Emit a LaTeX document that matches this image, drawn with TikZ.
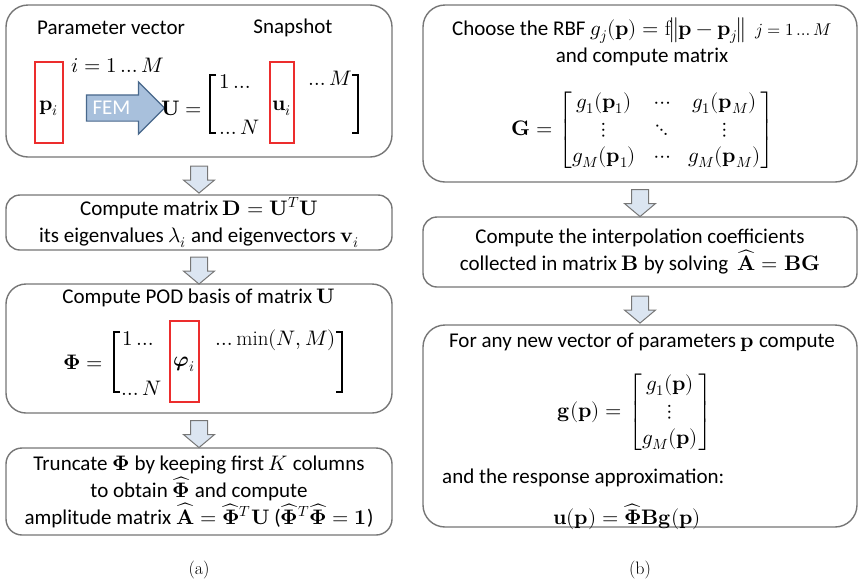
\documentclass[tikz,border=0pt]{standalone}
\usepackage{amsmath}
\usepackage{unicode-math}
\setmainfont{Carlito}
\setmathfont{Latin Modern Math}
\setmathrm{Latin Modern Roman}
\newfontfamily\capfont{Latin Modern Roman}
\usetikzlibrary{shapes.arrows, positioning, calc}
\definecolor{framegray}{RGB}{118,118,118}
\definecolor{stepblue}{RGB}{219,229,241}
\definecolor{femblue}{RGB}{168,192,220}
\definecolor{femedge}{RGB}{72,104,140}
\definecolor{pickred}{RGB}{236,45,45}

\begin{document}
\begin{tikzpicture}[x=1pt, y=-1pt,
  txt/.style={font=\fontsize{21pt}{27pt}\selectfont, inner sep=0pt},
  panel/.style={draw=framegray, line width=1.4pt, fill=white, rounded corners=#1,
    inner sep=0pt, align=center, font=\fontsize{21pt}{27pt}\selectfont},
  panel/.default=20pt,
  pick/.style={draw=pickred, line width=1.3pt, inner sep=0pt},
  bracket/.style={line width=1.2pt},
  steparrow/.style={shape=single arrow, rotate=-90, draw=framegray, fill=stepblue,
    line width=1pt, minimum height=27pt, inner xsep=0pt, inner ysep=8pt,
    single arrow head extend=7pt, single arrow tip angle=100},
  femarrow/.style={shape=single arrow, draw=femedge, fill=femblue, line width=1.2pt,
    minimum height=78pt, inner xsep=0pt, inner ysep=12.5pt,
    single arrow head extend=13pt},
  captxt/.style={font=\capfont\fontsize{18pt}{22pt}\selectfont, inner sep=0pt}
]
\useasboundingbox (0,0) rectangle (858,584);

% (a) snapshots
\node[panel=22pt, minimum width=386pt, minimum height=152pt] (snap) at (199,81) {};
\node[txt] (parlab) at (111,28) {Parameter vector};
\node[txt] (snaplab) at (293,28) {Snapshot};
\node[pick, minimum width=28pt, minimum height=81pt] (pbox) at (49,102.5) {};
\node[txt] (pvec) at (49,108) {$\symbf{p}_i$};
\node[txt] (range) at (118,65) {$i = 1 \ldots M$};
\node[femarrow] (fem) at (119,108) {};
\node[txt, text=white] (femlab) at (111.5,108) {FEM};
\node[txt, anchor=east] (ueq) at (202,108) {$\symbf{U} =$};
\draw[bracket] (216,75) -| (210,133) -- (216,133);
\node[txt, anchor=west] (uone) at (219,82) {$1 \ldots$};
\node[txt, anchor=west] (un) at (219,127) {$\ldots N$};
\node[pick, minimum width=24pt, minimum height=81pt] (ubox) at (282,102.5) {};
\node[txt] (uvec) at (282,108) {$\symbf{u}_i$};
\node[txt, anchor=east] (um) at (352,78) {$\ldots M$};
\draw[bracket] (352,75) -| (358,133) -- (352,133);

% eigenproblem
\node[panel=14pt, minimum width=386pt, minimum height=55pt] (eig) at (199,222.5)
  {Compute matrix $\symbf{D} = \symbf{U}^T\symbf{U}$\\
   its eigenvalues $\lambda_i$ and eigenvectors $\symbf{v}_i$};

% POD basis
\node[panel=20pt, minimum width=386pt, minimum height=129pt] (pod) at (199,348.5) {};
\node[txt] (podlab) at (199,298) {Compute POD basis of matrix $\symbf{U}$};
\node[txt, anchor=east] (phieq) at (103,362) {$\symbf{\Phi} =$};
\draw[bracket] (120,332) -| (114,392) -- (120,392);
\node[txt, anchor=west] (phione) at (122,338) {$1 \ldots$};
\node[txt, anchor=west] (phin) at (121,388) {$\ldots N$};
\node[pick, minimum width=29pt, minimum height=81pt] (phibox) at (184.5,361.5) {};
\node[txt] (phivec) at (184,364) {$\symbf{\varphi}_i$};
\node[txt, anchor=east] (phimin) at (336,340) {$\ldots\min(N,M)$};
\draw[bracket] (336,332) -| (342,392) -- (336,392);

% truncation
\node[panel=16pt, minimum width=386pt, minimum height=87pt] (trunc) at (199,491.5)
  {Truncate $\symbf{\Phi}$ by keeping first $K$ columns\\
   to obtain $\widehat{\symbf{\Phi}}$ and compute\\
   amplitude matrix $\widehat{\symbf{A}} = \widehat{\symbf{\Phi}}^T\symbf{U}$
   ($\widehat{\symbf{\Phi}}^T\widehat{\symbf{\Phi}} = \symbf{1}$)};

\node[steparrow] (s1) at ($(snap.south)!0.5!(eig.north)$) {};
\node[steparrow] (s2) at ($(eig.south)!0.5!(pod.north)$) {};
\node[steparrow] (s3) at ($(pod.south)!0.5!(trunc.north)$) {};

% (b) RBF
\node[panel=22pt, minimum width=434pt, minimum height=177pt] (rbf) at (640,93.5) {};
\node[txt, align=center] (rbflab) at (642,42)
  {Choose the RBF $g_j(\symbf{p}) = \mathrm{f}\big\|\symbf{p}-\symbf{p}_j\big\|$\;
   {\fontsize{17pt}{20pt}\selectfont $j = 1 \ldots M$}\\ and compute matrix};
\node[txt] (gmat) at (643,130)
  {\setlength{\arraycolsep}{9pt}$\symbf{G} = \begin{bmatrix}
     g_1(\symbf{p}_1) & \cdots & g_1(\symbf{p}_M)\\
     \vdots & \ddots & \vdots\\
     g_M(\symbf{p}_1) & \cdots & g_M(\symbf{p}_M)
   \end{bmatrix}$};

\node[panel=14pt, minimum width=434pt, minimum height=70pt] (coef) at (640,252)
  {Compute the interpolation coefficients\\
   collected in matrix $\symbf{B}$ by solving\ \ $\widehat{\symbf{A}} = \symbf{BG}$};

\node[panel=22pt, minimum width=434pt, minimum height=202pt] (resp) at (640,426) {};
\node[txt] (resplab) at (642,342) {For any new vector of parameters $\symbf{p}$ compute};
\node[txt] (gvec) at (635,412)
  {$\symbf{g}(\symbf{p}) = \begin{bmatrix}
     g_1(\symbf{p})\\ \vdots\\ g_M(\symbf{p})
   \end{bmatrix}$};
\node[txt, anchor=west] (applab) at (442,478) {and the response approximation:};
\node[txt] (uapp) at (627,517)
  {$\symbf{u}(\symbf{p}) = \widehat{\symbf{\Phi}}\symbf{B}\symbf{g}(\symbf{p})$};

\node[steparrow] (s4) at ($(rbf.south)!0.5!(coef.north)$) {};
\node[steparrow] (s5) at ($(coef.south)!0.5!(resp.north)$) {};

% captions
\node[captxt] (capa) at (199,570) {(a)};
\node[captxt] (capb) at (640,570) {(b)};
\end{tikzpicture}
\end{document}
